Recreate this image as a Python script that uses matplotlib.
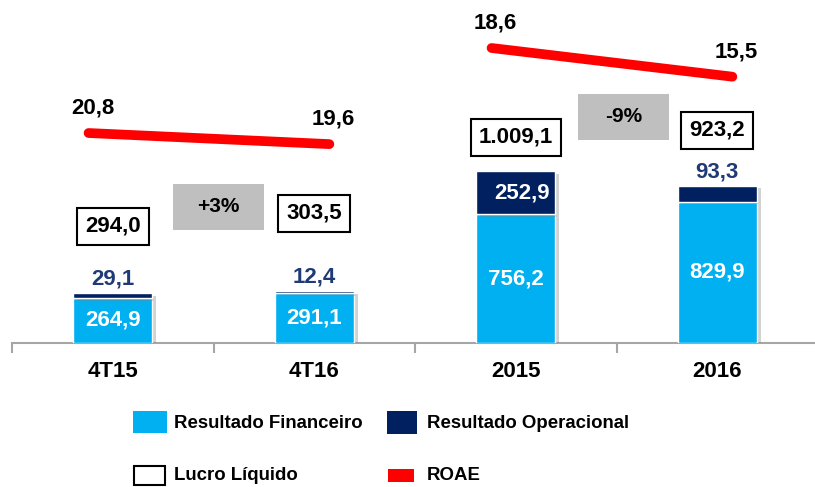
import matplotlib.pyplot as plt
import matplotlib.patheffects as pe
from matplotlib.patches import Rectangle
import numpy as np

plt.rcParams['font.family'] = ['Liberation Sans', 'DejaVu Sans']
plt.rcParams['font.weight'] = 'bold'

# data
categorias = ["4T15", "4T16", "2015", "2016"]
res_financeiro = [264.9, 291.1, 756.2, 829.9]
res_operacional = [29.1, 12.4, 252.9, 93.3]
lucro_liquido = [294.0, 303.5, 1009.1, 923.2]
roae_trim = [20.8, 19.6]
roae_ano = [18.6, 15.5]
variacao = ["+3%", "-9%"]

def br(v, dec=1):
    s = f"{v:,.{dec}f}"
    return s.replace(",", "X").replace(".", ",").replace("X", ".")

AZUL = "#00B0F0"
MARINHO = "#002060"
TXT_MARINHO = "#1F3A74"
CINZA = "#BFBFBF"

fig = plt.figure(figsize=(8.15, 4.87), dpi=100)
ax = fig.add_axes([12/815, 144/487, 806/815, 343/487])
x = np.arange(len(categorias))
w = 0.39

sombra = [pe.SimplePatchShadow(offset=(3, -2), alpha=0.35, shadow_rgbFace="#808080"), pe.Normal()]
b1 = ax.bar(x, res_financeiro, w, color=AZUL, edgecolor="white", linewidth=1, zorder=3)
b2 = ax.bar(x, res_operacional, w, bottom=res_financeiro, color=MARINHO, edgecolor="white", linewidth=1, zorder=3)
for b in list(b1) + list(b2):
    b.set_path_effects(sombra)

ax.set_xlim(-0.5, 3.5)
ax.set_ylim(0, 2012)
for s in ["top", "left", "right"]:
    ax.spines[s].set_visible(False)
ax.spines["bottom"].set_color("#A6A6A6")
ax.spines["bottom"].set_linewidth(1.5)
ax.set_yticks([])
ax.set_xticks(x)
ax.set_xticklabels(categorias, fontsize=16, fontweight="bold")
ax.tick_params(axis="x", which="major", length=0, pad=13)
ax.set_xticks(np.arange(-0.5, 4, 1), minor=True)
ax.tick_params(axis="x", which="minor", length=7, width=1.5, color="#A6A6A6")

# value labels
for i in x:
    ax.text(i, res_financeiro[i] / 2, br(res_financeiro[i]), ha="center", va="center",
            color="white", fontsize=16, fontweight="bold", zorder=5)
    if res_operacional[i] > 150:
        ax.text(i + 0.03, res_financeiro[i] + res_operacional[i] / 2, br(res_operacional[i]),
                ha="center", va="center", color="white", fontsize=16, fontweight="bold", zorder=5)
    else:
        ax.annotate(br(res_operacional[i]), (i, lucro_liquido[i]), xytext=(0, 10),
                    textcoords="offset points", ha="center", va="center",
                    color=TXT_MARINHO, fontsize=16, fontweight="bold", zorder=5)

# lucro liquido boxes
pos_caixa = [686, 762, 1208, 1249]
for i in x:
    ax.text(i, pos_caixa[i], br(lucro_liquido[i]), ha="center", va="center", fontsize=16,
            fontweight="bold", color="black", zorder=6,
            bbox=dict(boxstyle="square,pad=0.36", fc="white", ec="black", lw=1.5))

# variation boxes
pos_var = [(0.525, 798), (2.535, 1328)]
for (cx, cy), t in zip(pos_var, variacao):
    ax.add_patch(Rectangle((cx - 0.226, cy - 135), 0.452, 270, facecolor=CINZA,
                           edgecolor="none", zorder=4))
    ax.text(cx, cy, t, ha="center", va="center", fontsize=15, fontweight="bold", zorder=5)

# ROAE lines
off = np.array([-0.12, 0.075])
for vals, idx, lims in [(roae_trim, [0, 1], (-1.9, 35.18)), (roae_ano, [2, 3], (-13.29, 23.79))]:
    axr = ax.twinx()
    axr.set_ylim(*lims)
    axr.axis("off")
    xs = np.array(idx) + off
    axr.plot(xs, vals, color="#FF0000", lw=7, solid_capstyle="round", zorder=5)
    for xv, v in zip(xs, vals):
        axr.annotate(br(v), (xv, v), xytext=(3, 18), textcoords="offset points",
                     ha="center", va="center", fontsize=16, fontweight="bold")

# legend in pixel coordinates
lax = fig.add_axes([0, 0, 1, 1], zorder=-1)
lax.set_xlim(0, 815)
lax.set_ylim(487, 0)
lax.axis("off")
lax.add_patch(Rectangle((133, 411), 34, 22, facecolor=AZUL, edgecolor="none"))
lax.add_patch(Rectangle((387, 411), 30, 23, facecolor=MARINHO, edgecolor="none"))
lax.add_patch(Rectangle((134, 466), 31, 19, facecolor="white", edgecolor="black", lw=1.5))
lax.add_patch(Rectangle((388, 469), 26, 13, facecolor="#FF0000", edgecolor="none"))
lax.text(174, 423, "Resultado Financeiro", fontsize=13.4, fontweight="bold", va="center")
lax.text(427, 424, "Resultado Operacional", fontsize=13.4, fontweight="bold", va="center")
lax.text(174, 476, "Lucro Líquido", fontsize=13.4, fontweight="bold", va="center")
lax.text(427, 476, "ROAE", fontsize=13.4, fontweight="bold", va="center")

fig.savefig("out.png", dpi=100)
